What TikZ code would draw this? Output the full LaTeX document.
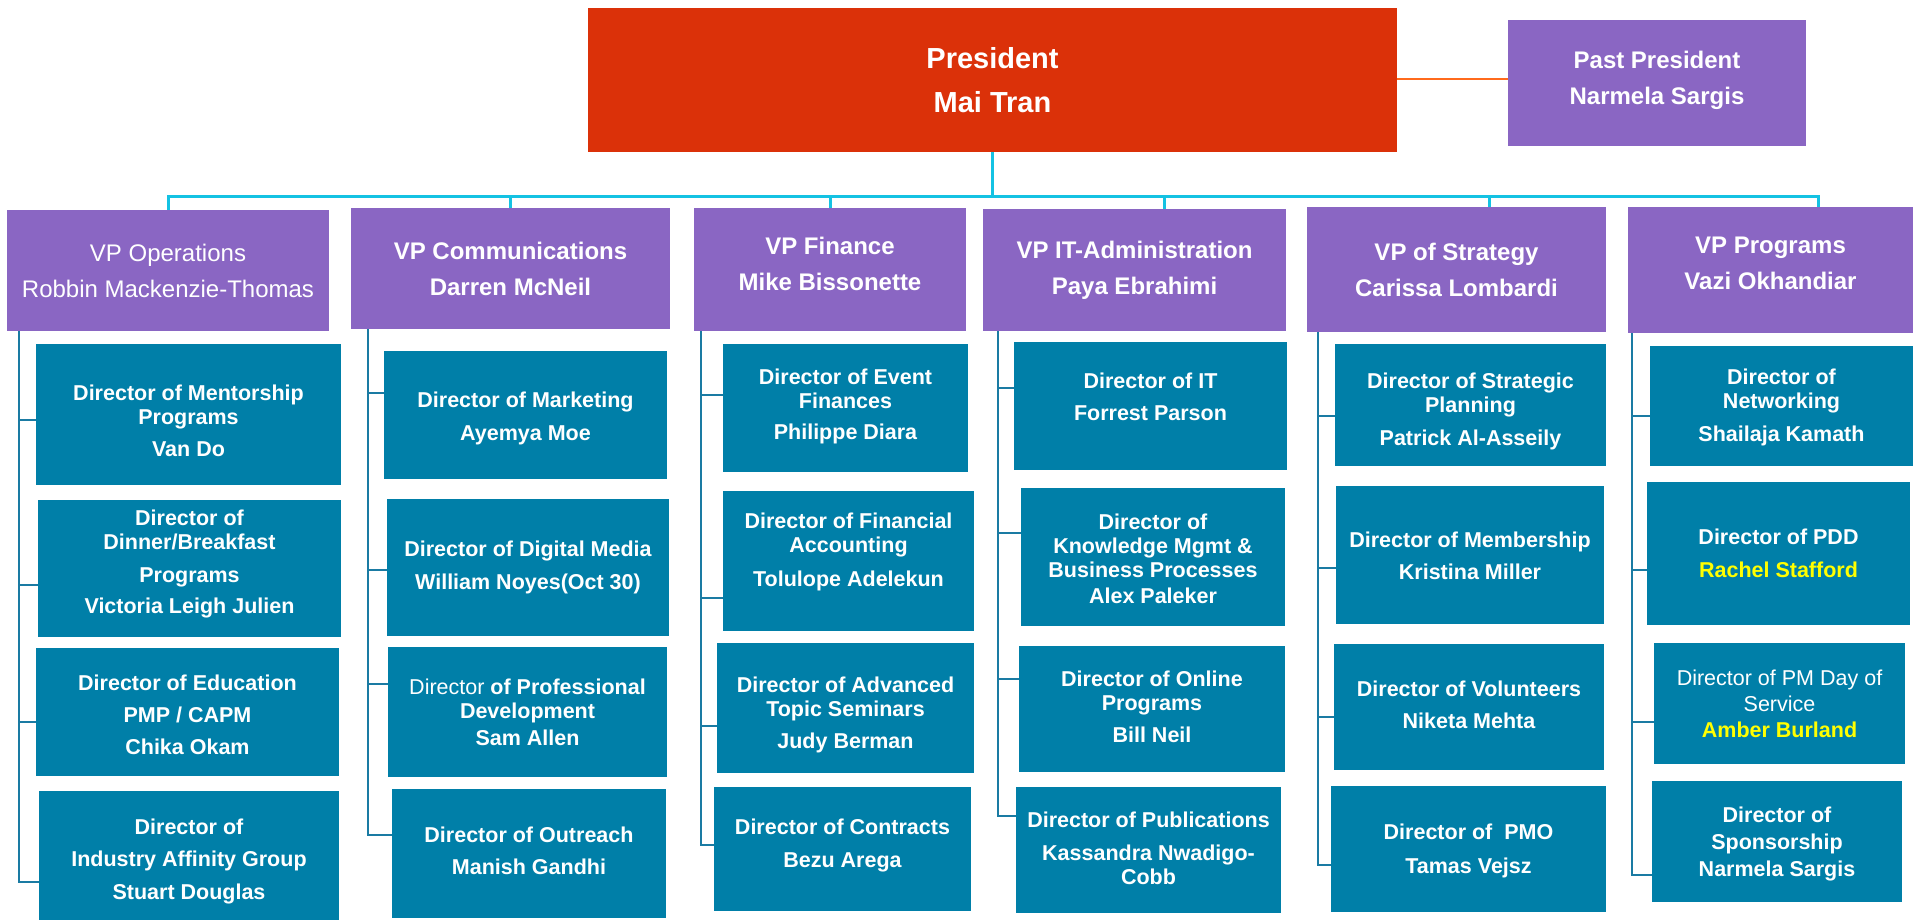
\documentclass[tikz,border=0pt]{standalone}
\usepackage{fontspec}
\setmainfont{Liberation Sans}
\usetikzlibrary{backgrounds}
\definecolor{prescol}{HTML}{DB3109}
\definecolor{vpcol}{HTML}{8A66C3}
\definecolor{dircol}{HTML}{007FA8}
\definecolor{buscol}{HTML}{14C2E3}
\definecolor{dlinecol}{HTML}{1A7BA3}
\definecolor{orngcol}{HTML}{FF6A1C}
\definecolor{yelcol}{HTML}{FFFF00}
\tikzset{
  orgnode/.style={rectangle, inner sep=0pt, align=center, text=white},
  presbox/.style={orgnode, fill=prescol, font=\fontsize{29}{44}\selectfont\bfseries},
  vpbox/.style={orgnode, fill=vpcol, font=\fontsize{24}{36}\selectfont\bfseries},
  vpboxreg/.style={orgnode, fill=vpcol, font=\fontsize{24}{36}\selectfont},
  dirbox/.style={orgnode, fill=dircol, font=\fontsize{21.5}{24}\selectfont\bfseries},
  busline/.style={draw=buscol, line width=3pt},
  dirline/.style={draw=dlinecol, line width=2.7pt},
  pastline/.style={draw=orngcol, line width=2pt},
}
% #1 name, #2 style, #3-#6 corners (px, y down), #7 text, #8 text shift down (px)
\newcommand\orgbox[8]{%
  \node[#2, minimum width={#5-#3}, minimum height={#6-#4}] (#1) at ({(#3+#5)/2},{(#4+#6)/2}) {};
  \node[#2, fill=none] (#1t) at ([yshift={-(#8)}]#1.center) {#7};}
\begin{document}
\begin{tikzpicture}[x=1pt,y=-1pt]
\useasboundingbox (0,0) rectangle (1920,920);
% top level
\orgbox{pres}{presbox}{588}{8}{1397}{152}{President\\Mai Tran}{0}
\orgbox{past}{vpbox}{1508}{20}{1806}{146}{Past President\\Narmela Sargis}{-3}
% VPs
\orgbox{vp1}{vpboxreg}{7}{210}{329}{331}{VP Operations\\Robbin Mackenzie-Thomas}{0}
\orgbox{vp2}{vpbox}{351}{208}{670}{329}{VP Communications\\Darren McNeil}{0}
\orgbox{vp3}{vpbox}{694}{208}{966}{331}{VP Finance\\Mike Bissonette}{-6}
\orgbox{vp4}{vpbox}{983}{209}{1286}{331}{VP IT-Administration\\Paya Ebrahimi}{0}
\orgbox{vp5}{vpbox}{1307}{207}{1606}{332}{VP of Strategy\\Carissa Lombardi}{0}
\orgbox{vp6}{vpbox}{1628}{207}{1913}{333}{VP Programs\\Vazi Okhandiar}{-7}
% column 1
\orgbox{d11}{dirbox}{36}{344}{341}{485}{Director of Mentorship\\Programs\\[8pt]Van Do}{6}
\orgbox{d12}{dirbox}{38}{500}{341}{637}{Director of\\Dinner/Breakfast\\[9pt]Programs\\[7pt]Victoria Leigh Julien}{-5}
\orgbox{d13}{dirbox}{36}{648}{339}{776}{Director of Education\\[8pt]PMP / CAPM\\[8pt]Chika Okam}{3}
\orgbox{d14}{dirbox}{39}{791}{339}{920}{Director of\\[8pt]Industry Affinity Group\\[9pt]Stuart Douglas}{6}
% column 2
\orgbox{d21}{dirbox}{384}{351}{667}{479}{Director of Marketing\\[9pt]Ayemya Moe}{3}
\orgbox{d22}{dirbox}{387}{499}{669}{636}{Director of Digital Media\\[9pt]William Noyes(Oct 30)}{0}
\orgbox{d23}{dirbox}{388}{647}{667}{777}{{\mdseries Director} of Professional\\Development\\[3pt]Sam Allen}{0}
\orgbox{d24}{dirbox}{392}{789}{666}{918}{Director of Outreach\\[8pt]Manish Gandhi}{-3}
% column 3
\orgbox{d31}{dirbox}{723}{344}{968}{472}{Director of Event\\Finances\\[7pt]Philippe Diara}{-2}
\orgbox{d32}{dirbox}{723}{491}{974}{631}{Director of Financial\\Accounting\\[10pt]Tolulope Adelekun}{-9}
\orgbox{d33}{dirbox}{717}{643}{974}{773}{Director of Advanced\\Topic Seminars\\[8pt]Judy Berman}{7}
\orgbox{d34}{dirbox}{714}{787}{971}{911}{Director of Contracts\\[9pt]Bezu Arega}{-4}
% column 4
\orgbox{d41}{dirbox}{1014}{342}{1287}{470}{Director of IT\\[8pt]Forrest Parson}{-9}
\orgbox{d42}{dirbox}{1021}{488}{1285}{626}{Director of\\Knowledge Mgmt \&\\Business Processes\\[2pt]Alex Paleker}{2}
\orgbox{d43}{dirbox}{1019}{646}{1285}{772}{Director of Online\\Programs\\[8pt]Bill Neil}{-2}
\orgbox{d44}{dirbox}{1016}{787}{1281}{913}{Director of Publications\\[9pt]Kassandra Nwadigo-\\Cobb}{-2}
% column 5
\orgbox{d51}{dirbox}{1335}{344}{1606}{466}{Director of Strategic\\Planning\\[9pt]Patrick Al-Asseily}{6}
\orgbox{d52}{dirbox}{1336}{486}{1604}{624}{Director of Membership\\[8pt]Kristina Miller}{1}
\orgbox{d53}{dirbox}{1334}{644}{1604}{770}{Director of Volunteers\\[8pt]Niketa Mehta}{-2}
\orgbox{d54}{dirbox}{1331}{786}{1606}{912}{Director of~ PMO\\[10pt]Tamas Vejsz}{2}
% column 6
\orgbox{d61}{dirbox}{1650}{346}{1913}{466}{Director of\\Networking\\[9pt]Shailaja Kamath}{1}
\orgbox{d62}{dirbox}{1647}{482}{1910}{625}{Director of PDD\\[9pt]{\color{yelcol}Rachel Stafford}}{0}
\orgbox{d63}{dirbox}{1654}{643}{1905}{764}{{\mdseries Director of PM Day of}\\[2pt]{\mdseries Service}\\[2pt]{\color{yelcol}Amber Burland}}{0}
\orgbox{d64}{dirbox}{1652}{781}{1902}{902}{Director of\\[3pt]Sponsorship\\[3pt]Narmela Sargis}{2}
\begin{scope}[on background layer]
\fill[white] (0,0) rectangle (1920,920);
% president to past president
\draw[pastline] (pres.east |- 0,79) -- (past.west |- 0,79);
% bus
\coordinate (bus) at (pres.south |- 0,197);
\draw[busline] (pres.south) -- (bus);
\draw[busline] (bus) -| (vp1.north -| 168,0);
\draw[busline] (bus) -| (vp2.north -| 510,0);
\draw[busline] (bus) -| (vp3.north -| 830,0);
\draw[busline] (bus) -| (vp4.north -| 1164,0);
\draw[busline] (bus) -| (vp5.north -| 1489,0);
\draw[busline] (bus) -| (vp6.north -| 1818,0);
% director connectors
\coordinate (c1) at (vp1.south -| 19,0);
\coordinate (c2) at (vp2.south -| 368,0);
\coordinate (c3) at (vp3.south -| 701,0);
\coordinate (c4) at (vp4.south -| 998,0);
\coordinate (c5) at (vp5.south -| 1318,0);
\coordinate (c6) at (vp6.south -| 1632,0);
\draw[dirline] (c1) |- (d11.west |- 0,420);
\draw[dirline] (c1) |- (d12.west |- 0,585);
\draw[dirline] (c1) |- (d13.west |- 0,722);
\draw[dirline] (c1) |- (d14.west |- 0,882);
\draw[dirline] (c2) |- (d21.west |- 0,393);
\draw[dirline] (c2) |- (d22.west |- 0,570);
\draw[dirline] (c2) |- (d23.west |- 0,684);
\draw[dirline] (c2) |- (d24.west |- 0,835);
\draw[dirline] (c3) |- (d31.west |- 0,395);
\draw[dirline] (c3) |- (d32.west |- 0,598);
\draw[dirline] (c3) |- (d33.west |- 0,726);
\draw[dirline] (c3) |- (d34.west |- 0,845);
\draw[dirline] (c4) |- (d41.west |- 0,388);
\draw[dirline] (c4) |- (d42.west |- 0,533);
\draw[dirline] (c4) |- (d43.west |- 0,679);
\draw[dirline] (c4) |- (d44.west |- 0,816);
\draw[dirline] (c5) |- (d51.west |- 0,416);
\draw[dirline] (c5) |- (d52.west |- 0,568);
\draw[dirline] (c5) |- (d53.west |- 0,717);
\draw[dirline] (c5) |- (d54.west |- 0,865);
\draw[dirline] (c6) |- (d61.west |- 0,416);
\draw[dirline] (c6) |- (d62.west |- 0,570);
\draw[dirline] (c6) |- (d63.west |- 0,722);
\draw[dirline] (c6) |- (d64.west |- 0,875);
\end{scope}
\end{tikzpicture}
\end{document}
